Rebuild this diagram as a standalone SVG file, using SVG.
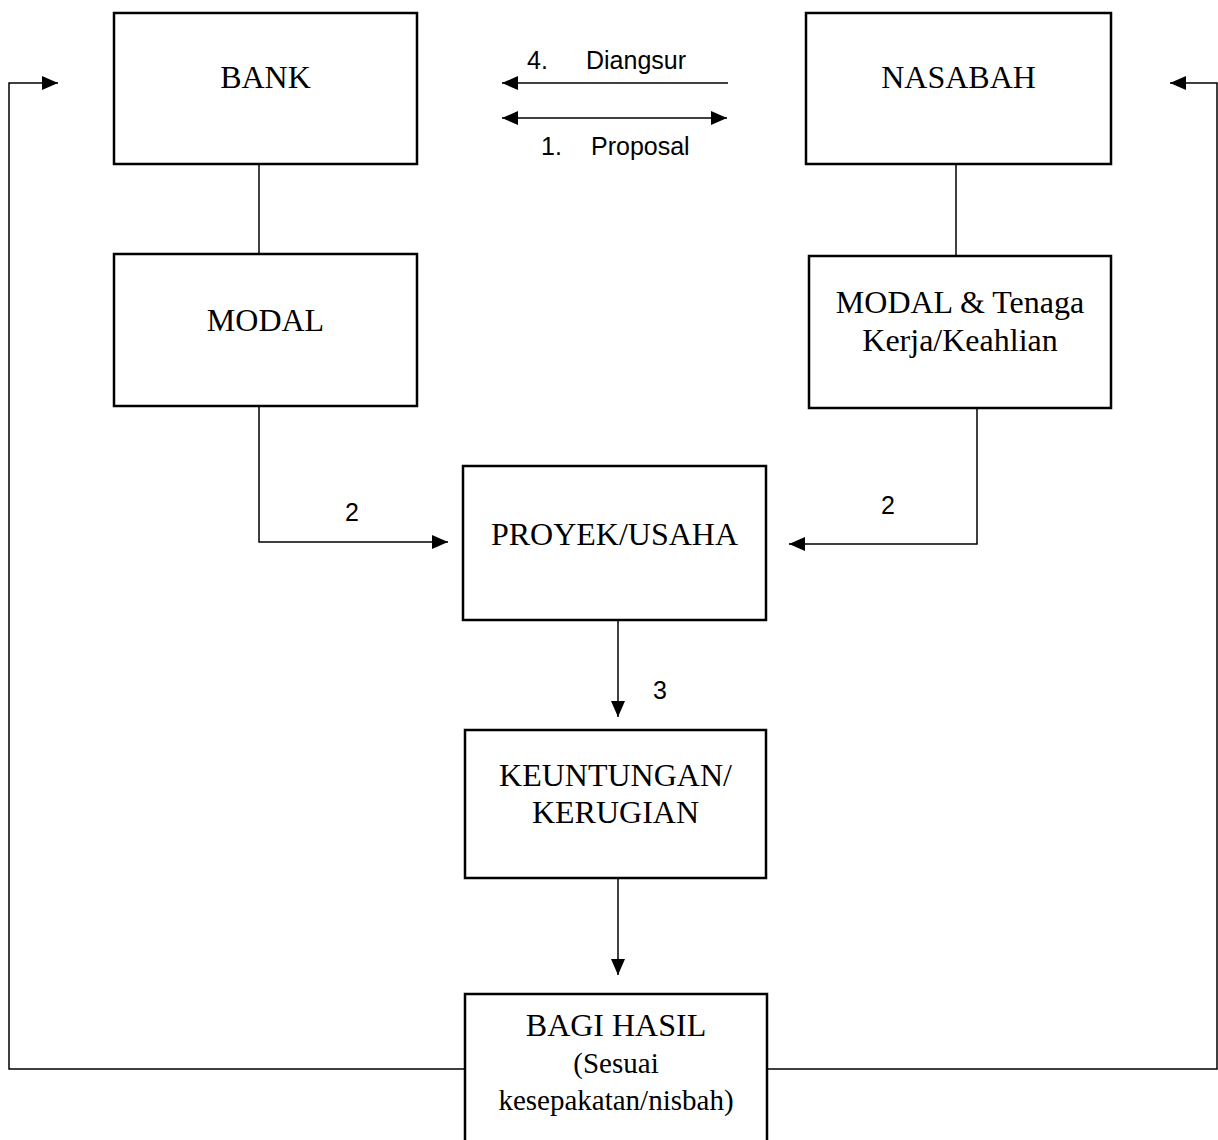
<svg xmlns="http://www.w3.org/2000/svg" width="1218" height="1140" viewBox="0 0 1218 1140">
<style>
.box{fill:#fff;stroke:#000;stroke-width:2.5}
.t{font-family:"Liberation Serif","Times New Roman",serif;font-size:32px;fill:#000;text-anchor:middle}
.l{font-family:"Liberation Sans",Arial,sans-serif;font-size:25px;fill:#000}
.c{fill:none;stroke:#000;stroke-width:1.5}
</style>
<defs>
<marker id="ah" markerUnits="userSpaceOnUse" markerWidth="18" markerHeight="16" refX="16" refY="7" orient="auto-start-reverse">
<path d="M0,0 L16,7 L0,14 z" fill="#000"/>
</marker>
</defs>
<rect width="1218" height="1140" fill="#fff"/>
<g id="connectors">
<polyline class="c" points="464,1069 9,1069 9,83 58,83" marker-end="url(#ah)"/>
<polyline class="c" points="767,1069 1217,1069 1217,83 1170,83" marker-end="url(#ah)"/>
<line class="c" x1="728" y1="83" x2="502" y2="83" marker-end="url(#ah)"/>
<line class="c" x1="502" y1="118" x2="727" y2="118" marker-start="url(#ah)" marker-end="url(#ah)"/>
<line class="c" x1="259" y1="164" x2="259" y2="254"/>
<line class="c" x1="956" y1="164" x2="956" y2="256"/>
<polyline class="c" points="259,406 259,542 448,542" marker-end="url(#ah)"/>
<polyline class="c" points="977,408 977,544 789,544" marker-end="url(#ah)"/>
<line class="c" x1="618" y1="620" x2="618" y2="717" marker-end="url(#ah)"/>
<line class="c" x1="618" y1="878" x2="618" y2="975" marker-end="url(#ah)"/>
<text class="l" x="527" y="69">4.</text>
<text class="l" x="586" y="69">Diangsur</text>
<text class="l" x="541" y="155">1.</text>
<text class="l" x="591" y="155">Proposal</text>
<text class="l" x="345" y="521">2</text>
<text class="l" x="881" y="514">2</text>
<text class="l" x="653" y="699">3</text>
</g>
<g id="bank">
<rect class="box" x="114" y="13" width="303" height="151"/>
<text class="t" x="265.5" y="88">BANK</text>
</g>
<g id="nasabah">
<rect class="box" x="806" y="13" width="305" height="151"/>
<text class="t" x="958.5" y="88">NASABAH</text>
</g>
<g id="modal">
<rect class="box" x="114" y="254" width="303" height="152"/>
<text class="t" x="265.5" y="331">MODAL</text>
</g>
<g id="modal-tenaga">
<rect class="box" x="809" y="256" width="302" height="152"/>
<text class="t" x="960" y="313">MODAL &amp; Tenaga</text>
<text class="t" x="960" y="351">Kerja/Keahlian</text>
</g>
<g id="proyek">
<rect class="box" x="463" y="466" width="303" height="154"/>
<text class="t" x="614.5" y="545">PROYEK/USAHA</text>
</g>
<g id="keuntungan">
<rect class="box" x="465" y="730" width="301" height="148"/>
<text class="t" x="615.5" y="786">KEUNTUNGAN/</text>
<text class="t" x="615.5" y="823">KERUGIAN</text>
</g>
<g id="bagi-hasil">
<rect class="box" x="465" y="994" width="302" height="160"/>
<text class="t" x="616" y="1036">BAGI HASIL</text>
<text class="t" x="616" y="1073" style="font-size:29px">(Sesuai</text>
<text class="t" x="616" y="1110" style="font-size:29px">kesepakatan/nisbah)</text>
</g>
</svg>
